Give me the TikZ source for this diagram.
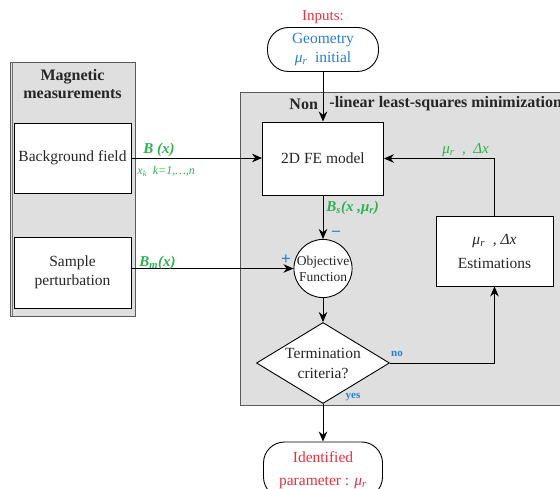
\documentclass[tikz,border=0pt]{standalone}
\usepackage{fontspec}
\setmainfont{Liberation Serif}
\usetikzlibrary{arrows.meta,shapes.geometric}
\definecolor{panelgray}{HTML}{DFDFE0}
\definecolor{inred}{HTML}{E8323C}
\definecolor{inblue}{HTML}{2A7FCC}
\definecolor{sigreen}{HTML}{2DB14E}
\newcommand\mur{\textit{μ}\textsubscript{\textit{r}}}
\newcommand\fsz[2]{\fontsize{#1}{#2}\selectfont}

\begin{document}
\begin{tikzpicture}[x=1pt,y=-1pt,line width=0.9pt,
  box/.style={draw,fill=white,align=center,text=black!85,font=\fsz{15.5}{19},inner sep=2pt},
  term/.style={draw,fill=white,align=center,rounded corners=21pt,font=\fsz{15.5}{19},inner sep=2pt},
  panel/.style={draw=black!65,fill=panelgray,line width=0.9pt},
  arr/.style={-{Stealth[length=10pt,width=8.5pt]}},
  sig/.style={text=sigreen,font=\fsz{15}{17}\bfseries\itshape},
  flag/.style={text=inblue,font=\fsz{11}{13}\bfseries,inner sep=0pt},
  title/.style={font=\fsz{16}{18}\bfseries,text=black!85,align=center,inner sep=0pt}]
\useasboundingbox (0,0) rectangle (560,489);
\clip (0,0) rectangle (560,489);

% grey panels (the left one with a doubled left edge)
\draw[panel] (10,62) rectangle (135,316);
\draw[draw=black!55,line width=0.6pt] (12.5,62) -- (12.5,316);
\draw[panel] (240,92) rectangle (575,405);
\node[title] (magtitle) at (72.5,84) {Magnetic\\measurements};
\node[title,anchor=west] (nltitleA) at (289,104) {Non};
\node[title,anchor=west] (nltitleB) at (329,104) {-linear least-squares minimization};

% measurement boxes
\node[box,minimum width=117pt,minimum height=70pt] (bg) at (72.5,158) {Background field};
\node[box,minimum width=117pt,minimum height=71pt] (sp) at (72.5,272.5) {Sample\\perturbation};

% inputs
\node[text=inred,font=\fsz{15}{17},inner sep=0pt] (inputs) at (323,17) {Inputs:};
\node[term,minimum width=111pt,minimum height=44pt,text=inblue] (geo) at (323,49.5) {Geometry\\\mur\ \ initial};

% minimisation loop
\node[box,minimum width=121pt,minimum height=73pt] (fe) at (323,158.5) {2D FE model};
\node[circle,draw,fill=white,minimum size=55pt,inner sep=0pt,align=center,text=black!85,font=\fsz{13.5}{16}] (obj) at (323,268.5) {Objective\\Function};
\node[diamond,draw,fill=white,minimum width=133pt,minimum height=81pt,inner sep=0pt] (crit) at (323,363) {};
\node[align=center,text=black!85,font=\fsz{15.5}{20},inner sep=0pt] (crittext) at (crit) {Termination\\criteria?};
\node[box,minimum width=117pt,minimum height=70pt,font=\fsz{15.5}{24}] (est) at (494.5,251) {\mur\ \ , \textit{Δx}\\Estimations};

% output
\node[term,minimum width=119pt,minimum height=56pt,text=inred,font=\fsz{15.5}{23}] (ident) at (323,470) {Identified\\parameter : \mur};

% connectors
\draw[arr] (geo) -- (fe);
\draw[arr] (bg.east) -- (bg.east -| fe.west);
\draw[arr] (fe) -- (obj);
\draw[arr] (sp.east |- obj) -- (obj.west);
\draw[arr] (obj) -- (crit.north);
\draw[arr] (crit.east) -| (est.south);
\draw[arr] (est.north) |- (fe.east);
\draw[arr] (crit.south) -- (ident.north);

% signal labels
\node[sig,anchor=west,inner sep=0pt] (lbB) at (143,150) {B (x)};
\node[text=sigreen,font=\fsz{12}{13}\itshape,anchor=west,inner sep=0pt] (lbxk) at (137,171) {x\textsubscript{k}\ \ k=1,…,n};
\node[sig,anchor=west,inner sep=0pt] (lbBs) at (326,208) {B\textsubscript{s}(x ,μ\textsubscript{r})};
\node[sig,anchor=west,inner sep=0pt] (lbBm) at (139,263) {B\textsubscript{m}(x)};
\node[text=sigreen,font=\fsz{15}{17}\itshape,anchor=west,inner sep=0pt] (lbfb) at (442,150) {μ\textsubscript{r}\ \ , \ Δx};
\node[text=inblue,font=\fsz{16}{17}\bfseries,inner sep=0pt] (minus) at (336,233) {–};
\node[text=inblue,font=\fsz{17}{17}\bfseries,inner sep=0pt] (plus) at (286,260) {+};
\node[flag] (no) at (397,354) {no};
\node[flag] (yes) at (353,397) {yes};
\end{tikzpicture}
\end{document}
